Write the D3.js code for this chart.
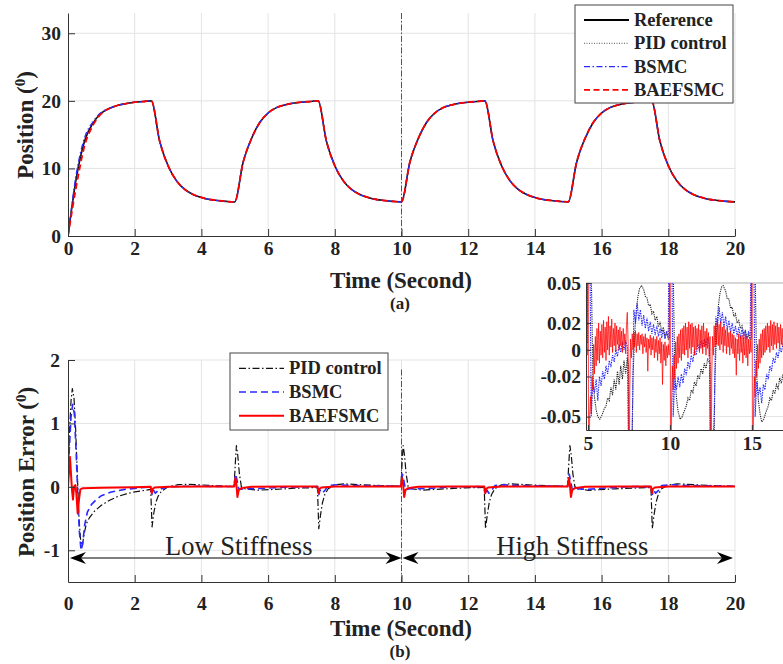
<!DOCTYPE html>
<html>
<head>
<meta charset="utf-8">
<title>Position tracking and error</title>
<script src="https://cdn.jsdelivr.net/npm/d3@7"></script>
<style>
body { margin: 0; background: #fff; }
svg text { font-family: "Liberation Serif", "Times New Roman", serif; fill: #222; }
.tick text { font-weight: bold; font-size: 19.5px; }
.axis path, .axis line { stroke: #333; stroke-width: 1; }
.grid line { stroke: #e3e3e3; stroke-width: 1; }
.xlabel, .ylabel { font-weight: bold; font-size: 23px; }
.sub { font-weight: bold; font-size: 17px; }
.leg text { font-weight: bold; font-size: 18.5px; }
.stiff { font-size: 26.5px; }
</style>
</head>
<body>
<svg id="chart" width="783" height="664"></svg>
<script>
// ---- data ----
var posStep = 0.25; // s, sampling of the position curves
var refPos = [
  0, 8.6, 14.1, 16.7, 18.2, 18.9, 19.35, 19.6, 19.8, 19.9, 20.0,
  14.0, 10.4, 8.2, 6.9, 6.15, 5.7, 5.4, 5.25, 5.12, 5.05,
  10.9, 14.4, 16.8, 18.2, 19.0, 19.4, 19.65, 19.8, 19.9, 20.0,
  14.0, 10.4, 8.2, 6.9, 6.15, 5.7, 5.4, 5.25, 5.12, 5.05,
  10.9, 14.4, 16.8, 18.2, 19.0, 19.4, 19.65, 19.8, 19.9, 20.0,
  14.0, 10.4, 8.2, 6.9, 6.15, 5.7, 5.4, 5.25, 5.12, 5.05,
  10.9, 14.4, 16.8, 18.2, 19.0, 19.4, 19.65, 19.8, 19.9, 20.0,
  14.0, 10.4, 8.2, 6.9, 6.15, 5.7, 5.4, 5.25, 5.12, 5.05
];
// first second of the controllers' response (after that they sit on the reference)
var pidPosStart  = [0, 8.8, 14.3, 16.8, 18.2];
var bsmcPosStart = [0, 9.2, 14.6, 16.9, 18.3];
var baefPosStart = [0, 7.4, 13.4, 16.4, 18.1];

var pidErr = [
  [0,0],[0.04,0.8],[0.09,1.35],[0.13,1.55],[0.18,1.4],[0.23,0.9],[0.28,0.2],[0.33,-0.5],[0.38,-0.85],[0.43,-0.93],
  [0.48,-0.75],[0.55,-0.58],[0.65,-0.48],[0.8,-0.38],[1.0,-0.29],[1.25,-0.21],[1.5,-0.15],[1.75,-0.11],[2.0,-0.08],[2.25,-0.06],[2.48,-0.04],
  [2.52,-0.63],[2.57,-0.42],[2.63,-0.25],[2.7,-0.15],[2.8,-0.07],[3.0,0.0],[3.3,0.035],[3.6,0.04],[4.0,0.03],[4.5,0.015],[4.98,0.006],
  [5.02,0.4],[5.05,0.65],[5.09,0.5],[5.14,0.2],[5.2,0.0],[5.3,-0.03],[5.7,-0.052],[6.2,-0.04],[6.8,-0.022],[7.48,-0.01],
  [7.52,-0.66],[7.57,-0.45],[7.63,-0.25],[7.7,-0.12],[7.8,-0.03],[8.0,0.03],[8.27,0.048],[8.8,0.033],[9.4,0.019],[9.98,0.009],
  [10.02,0.4],[10.05,0.65],[10.09,0.5],[10.14,0.2],[10.2,0.0],[10.3,-0.03],[10.62,-0.052],[11.3,-0.032],[11.9,-0.016],[12.48,-0.008],
  [12.52,-0.66],[12.57,-0.45],[12.63,-0.25],[12.7,-0.12],[12.8,-0.03],[13.0,0.035],[13.25,0.048],[13.8,0.032],[14.4,0.018],[14.98,0.009],
  [15.02,0.4],[15.05,0.65],[15.09,0.5],[15.14,0.2],[15.2,0.0],[15.3,-0.03],[15.6,-0.054],[16.4,-0.031],[17.0,-0.019],[17.48,-0.01],
  [17.52,-0.66],[17.57,-0.45],[17.63,-0.25],[17.7,-0.12],[17.8,-0.03],[18.0,0.03],[18.27,0.048],[18.8,0.033],[19.4,0.019],[20.0,0.008]
];
var bsmcErr = [
  [0,0],[0.04,0.6],[0.09,1.1],[0.14,1.3],[0.19,1.15],[0.24,0.6],[0.29,-0.1],[0.34,-0.7],[0.39,-1.0],[0.44,-0.9],
  [0.5,-0.6],[0.58,-0.4],[0.7,-0.28],[0.85,-0.2],[1.0,-0.14],[1.3,-0.08],[1.7,-0.04],[2.2,-0.015],[2.48,0.0],
  [2.52,-0.12],[2.56,-0.05],[2.62,-0.1],[2.7,-0.06],[2.8,-0.03],[3.0,0.0],[3.5,0.01],[4.5,0.008],[4.98,0.005],
  [5.03,0.2],[5.07,0.1],[5.12,-0.04],[5.3,-0.03],[5.8,-0.025],[6.5,-0.006],[7.48,0.003],
  [7.52,-0.12],[7.56,-0.05],[7.62,-0.1],[7.7,-0.06],[7.8,0.02],[8.05,0.034],[8.6,0.021],[9.4,0.015],[9.98,0.01],
  [10.03,0.2],[10.07,0.1],[10.12,-0.04],[10.3,-0.03],[10.8,-0.025],[11.5,0.0],[12.48,0.004],
  [12.52,-0.12],[12.56,-0.05],[12.62,-0.1],[12.7,-0.06],[12.8,0.02],[13.0,0.032],[13.5,0.02],[14.5,0.012],[14.98,0.01],
  [15.03,0.2],[15.07,0.1],[15.12,-0.04],[15.3,-0.03],[15.6,-0.04],[16.0,-0.022],[16.9,0.004],[17.48,0.003],
  [17.52,-0.12],[17.56,-0.05],[17.62,-0.1],[17.7,-0.06],[17.8,0.02],[18.05,0.034],[18.6,0.021],[19.4,0.015],[20.0,0.01]
];
var baefErr = [
  [0,0],[0.03,0.25],[0.06,0.47],[0.09,0.2],[0.12,-0.05],[0.15,-0.2],[0.18,0.0],[0.22,0.03],[0.25,-0.1],[0.29,-0.42],
  [0.33,-0.2],[0.37,-0.04],[0.45,-0.02],[1.0,-0.015],[2.0,-0.008],[2.48,0.0],
  [2.51,-0.1],[2.54,-0.03],[2.6,-0.01],[3.0,0.003],[4.0,0.004],[4.98,0.005],
  [5.02,0.14],[5.05,0.03],[5.08,-0.16],[5.12,-0.05],[5.2,-0.02],[5.5,0.0],[6.5,0.005],[7.48,0.005],
  [7.51,-0.1],[7.54,-0.03],[7.6,-0.01],[8.0,0.004],[9.0,0.004],[9.98,0.004],
  [10.02,0.14],[10.05,0.03],[10.08,-0.16],[10.12,-0.05],[10.2,-0.02],[10.5,0.0],[11.5,0.005],[12.48,0.005],
  [12.51,-0.1],[12.54,-0.03],[12.6,-0.01],[13.0,0.006],[14.0,0.004],[14.98,0.004],
  [15.02,0.14],[15.05,0.03],[15.08,-0.16],[15.12,-0.05],[15.2,-0.02],[15.5,0.0],[16.5,0.006],[17.48,0.005],
  [17.51,-0.1],[17.54,-0.03],[17.6,-0.01],[18.0,0.004],[19.0,0.004],[20.0,0.004]
];

// zoomed view (inset), BAEFSMC: 0.05 s samples from 4.9 s
var baefT0 = 4.9, baefStep = 0.05;
var baefZoom = [
  0.012, -0.004, 0.14, -0.16, -0.05, -0.035, -0.048, -0.02, -0.03, 0.004, -0.018, 0.01, -0.012, 0.016, -0.008, 0.02, -0.01, 0.014, -0.004, 0.019,
  -0.006, 0.022, -0.002, 0.017, -0.008, 0.021, 0.0, 0.025, -0.004, 0.018, 0.002, 0.023, -0.002, 0.016, 0.003, 0.02, -0.001, 0.018, 0.004, 0.015,
  0.0, 0.017, 0.003, 0.014, -0.002, 0.016, 0.004, 0.012, -0.003, 0.018, 0.028, 0.005, -0.15, -0.03, 0.008, -0.006, 0.012, 0.0, 0.013, 0.002,
  0.014, -0.002, 0.012, 0.003, 0.013, 0.0, 0.011, 0.004, 0.012, -0.003, 0.01, 0.002, 0.012, -0.002, 0.009, -0.016, 0.008, 0.001, 0.011, -0.004,
  0.009, 0.0, 0.01, -0.006, 0.008, -0.002, 0.01, -0.008, 0.007, -0.003, 0.009, -0.01, 0.006, -0.026, 0.004, -0.008, 0.006, -0.012, 0.003, -0.006,
  0.004, -0.004, 0.15, -0.15, -0.04, -0.012, -0.03, -0.004, -0.022, 0.006, -0.014, 0.01, -0.01, 0.012, -0.006, 0.015, -0.008, 0.016, -0.003, 0.018,
  -0.004, 0.02, 0.0, 0.017, -0.006, 0.021, 0.001, 0.019, -0.003, 0.02, 0.002, 0.017, -0.004, 0.018, 0.0, 0.016, 0.003, 0.019, -0.002, 0.015,
  0.001, 0.018, -0.003, 0.02, 0.002, 0.014, -0.004, 0.016, 0.001, 0.013, -0.005, 0.01, -0.15, -0.02, 0.01, -0.004, 0.018, 0.002, 0.02, 0.004,
  0.022, 0.003, 0.019, 0.0, 0.021, 0.004, 0.017, -0.002, 0.018, 0.003, 0.015, -0.003, 0.016, 0.002, 0.013, -0.004, 0.014, 0.001, 0.012, -0.003,
  0.011, -0.006, 0.009, -0.019, 0.008, -0.003, 0.012, -0.008, 0.01, -0.002, 0.011, -0.01, 0.009, -0.004, 0.012, -0.006, 0.01, -0.012, 0.008, -0.003,
  0.007, -0.002, 0.14, -0.15, -0.045, -0.02, -0.035, -0.008, -0.02, 0.004, -0.014, 0.008, -0.01, 0.012, -0.006, 0.015, -0.004, 0.016, -0.002, 0.018,
  0.0, 0.02, 0.002, 0.018, -0.002, 0.022, 0.003, 0.019, 0.0, 0.021, 0.004, 0.018, 0.001, 0.02, 0.005, 0.017, 0.002, 0.019, 0.004, 0.016,
  0.003, 0.018, 0.006
];
// zoomed view, BSMC: 0.1 s samples from 4.9 s
var bsmcT0 = 4.9, bsmcStep = 0.1;
var bsmcZoom = [
  0.005, 0.2, 0.1, -0.05, -0.025, -0.032, -0.022, -0.038, -0.02, -0.027,
  -0.016, -0.022, -0.012, -0.018, -0.008, -0.013, -0.004, -0.009, 0.0, -0.005,
  0.004, -0.002, 0.006, 0.0, 0.007, 0.002, -0.1, -0.08, -0.06, 0.03,
  0.02, 0.035, 0.022, 0.03, 0.018, 0.026, 0.016, 0.024, 0.014, 0.021,
  0.012, 0.019, 0.011, 0.018, 0.01, 0.016, 0.009, 0.015, 0.008, 0.014,
  0.009, 0.2, 0.1, -0.05, -0.022, -0.03, -0.02, -0.028, -0.018, -0.025,
  -0.014, -0.019, -0.009, -0.014, -0.004, -0.009, 0.0, -0.004, 0.004, 0.0,
  0.007, 0.002, 0.008, 0.003, 0.009, 0.004, -0.1, -0.08, -0.05, 0.025,
  0.018, 0.032, 0.02, 0.028, 0.017, 0.025, 0.015, 0.022, 0.013, 0.02,
  0.012, 0.018, 0.01, 0.017, 0.009, 0.016, 0.008, 0.015, 0.008, 0.014,
  0.008, 0.2, 0.1, -0.05, -0.024, -0.034, -0.028, -0.04, -0.026, -0.03,
  -0.018, -0.022, -0.012, -0.016, -0.006, -0.01, -0.002, -0.006, 0.002, -0.002,
  0.005, 0.002
];
var pidZoom = [
  [4.9,0.006],[4.98,0.005],[5.02,0.4],[5.1,0.5],[5.2,0.06],[5.3,-0.02],[5.4,-0.036],[5.5,-0.045],[5.6,-0.05],[5.73,-0.052],
  [5.85,-0.049],[6.0,-0.044],[6.1,-0.042],[6.2,-0.036],[6.3,-0.038],[6.4,-0.028],[6.5,-0.034],[6.6,-0.022],[6.7,-0.03],[6.8,-0.016],
  [6.9,-0.026],[7.0,-0.012],[7.1,-0.022],[7.2,-0.008],[7.3,-0.018],[7.4,-0.006],[7.48,-0.012],[7.52,-0.5],[7.6,-0.3],[7.68,-0.08],
  [7.75,-0.02],[7.85,0.012],[7.95,0.03],[8.05,0.04],[8.15,0.046],[8.27,0.048],[8.4,0.045],[8.5,0.04],[8.6,0.039],[8.7,0.033],
  [8.8,0.034],[8.9,0.027],[9.0,0.029],[9.1,0.022],[9.2,0.025],[9.3,0.017],[9.4,0.021],[9.5,0.013],[9.6,0.017],[9.7,0.01],
  [9.8,0.013],[9.9,0.008],[9.98,0.009],
  [10.02,0.4],[10.1,0.5],[10.2,0.06],[10.3,-0.02],[10.4,-0.036],[10.5,-0.046],[10.62,-0.052],[10.75,-0.05],[10.9,-0.045],[11.0,-0.042],
  [11.1,-0.036],[11.2,-0.038],[11.3,-0.03],[11.4,-0.032],[11.5,-0.024],[11.6,-0.027],[11.7,-0.019],[11.8,-0.022],[11.9,-0.014],[12.0,-0.018],
  [12.1,-0.01],[12.2,-0.014],[12.3,-0.007],[12.45,-0.01],
  [12.52,-0.5],[12.6,-0.3],[12.68,-0.08],[12.75,-0.02],[12.85,0.014],[12.95,0.032],[13.05,0.042],[13.15,0.047],[13.25,0.048],[13.4,0.044],
  [13.5,0.038],[13.6,0.038],[13.7,0.031],[13.8,0.032],[13.9,0.025],[14.0,0.027],[14.1,0.02],[14.2,0.022],[14.3,0.016],[14.4,0.018],
  [14.5,0.012],[14.6,0.014],[14.7,0.009],[14.8,0.011],[14.9,0.007],[14.98,0.009],
  [15.02,0.4],[15.1,0.5],[15.2,0.06],[15.3,-0.02],[15.4,-0.038],[15.5,-0.048],[15.6,-0.054],[15.72,-0.052],[15.85,-0.047],[16.0,-0.042],
  [16.1,-0.036],[16.2,-0.038],[16.3,-0.03],[16.4,-0.033],[16.5,-0.026],[16.6,-0.029],[16.7,-0.021],[16.8,-0.025],[16.9,-0.018],[17.0,-0.021]
];

var timeTicks = [0, 2, 4, 6, 8, 10, 12, 14, 16, 18, 20];
var posTicks = [0, 10, 20, 30];
var errTicks = [-1, 0, 1, 2];
var zoomXTicks = [5, 10, 15];
var zoomYTicks = [-0.05, -0.02, 0, 0.02, 0.05];
var topNames = ["Reference", "PID control", "BSMC", "BAEFSMC"];
var botNames = ["PID control", "BSMC", "BAEFSMC"];
var stiffLabels = ["Low Stiffness", "High Stiffness"];
var stiffSpans = [[0, 10], [10, 20]];
var switchTime = 10;

// ---- scales ----
var xTop = d3.scaleLinear().domain([0, 20]).range([68, 735]);
var yTop = d3.scaleLinear().domain([0, 33]).range([236, 13]);
var xBot = d3.scaleLinear().domain([0, 20]).range([68, 735]);
var yBot = d3.scaleLinear().domain([-1.5, 2]).range([582, 360]);
var xIn = d3.scaleLinear().domain([4.88, 16.9]).range([586, 783]);
var yIn = d3.scaleLinear().domain([-0.06, 0.05]).range([430, 283]);

var svg = d3.select("#chart");
var defs = svg.append("defs");
function clip(id, x, y) {
  defs.append("clipPath").attr("id", id).append("rect")
    .attr("x", x.range()[0]).attr("y", y.range()[1])
    .attr("width", x.range()[1] - x.range()[0]).attr("height", y.range()[0] - y.range()[1]);
}
clip("cTop", xTop, yTop); clip("cBot", xBot, yBot); clip("cIn", xIn, yIn);

var fmt = function(d) { return String(d); };

function grid(g, x, y, xt, yt) {
  var gg = g.append("g").attr("class", "grid");
  gg.selectAll(".gx").data(xt).enter().append("line")
    .attr("x1", x).attr("x2", x).attr("y1", y.range()[0]).attr("y2", y.range()[1]);
  gg.selectAll(".gy").data(yt).enter().append("line")
    .attr("x1", x.range()[0]).attr("x2", x.range()[1]).attr("y1", y).attr("y2", y);
}

// ---- (a) position ----
var gTop = svg.append("g");
grid(gTop, xTop, yTop, timeTicks.slice(1), posTicks.slice(1));
gTop.append("line")
  .attr("x1", xTop(switchTime)).attr("x2", xTop(switchTime))
  .attr("y1", yTop(33)).attr("y2", yTop(0))
  .attr("stroke", "#555").attr("stroke-width", 1).attr("stroke-dasharray", "6,2,1.5,2");

var posLine = d3.line().x(function(d, i) { return xTop(i * posStep); }).y(function(d) { return yTop(d); })
  .curve(d3.curveMonotoneX);
var topSeries = [
  refPos,
  pidPosStart.concat(refPos.slice(pidPosStart.length)),
  bsmcPosStart.concat(refPos.slice(bsmcPosStart.length)),
  baefPosStart.concat(refPos.slice(baefPosStart.length))
];
var topStyle = [
  { c: "#000", w: 1.6, dash: null },
  { c: "#555", w: 1, dash: "1,1.5" },
  { c: "#2a2aff", w: 1.3, dash: "6,2.5,1.5,2.5" },
  { c: "#ff0000", w: 1.8, dash: "6,3.5" }
];
var gTopLines = gTop.append("g").attr("clip-path", "url(#cTop)");
topSeries.forEach(function(s, i) {
  gTopLines.append("path").attr("d", posLine(s)).attr("fill", "none")
    .attr("stroke", topStyle[i].c).attr("stroke-width", topStyle[i].w)
    .attr("stroke-dasharray", topStyle[i].dash);
});

gTop.append("g").attr("class", "axis").attr("transform", "translate(0," + yTop(0) + ")")
  .call(d3.axisBottom(xTop).tickValues(timeTicks).tickFormat(fmt).tickSizeInner(-7).tickSizeOuter(0).tickPadding(5));
gTop.append("g").attr("class", "axis").attr("transform", "translate(" + xTop(0) + ",0)")
  .call(d3.axisLeft(yTop).tickValues(posTicks).tickFormat(fmt).tickSizeInner(-7).tickSizeOuter(0).tickPadding(7));

// legend (a)
var legA = svg.append("g").attr("class", "leg");
legA.append("rect").attr("x", 575).attr("y", 5).attr("width", 158).attr("height", 98)
  .attr("fill", "#fff").attr("stroke", "#444").attr("stroke-width", 1);
topNames.forEach(function(n, i) {
  var yy = 20 + i * 23.3;
  legA.append("line").attr("x1", 584).attr("x2", 629).attr("y1", yy).attr("y2", yy)
    .attr("stroke", topStyle[i].c).attr("stroke-width", i === 0 ? 2 : topStyle[i].w)
    .attr("stroke-dasharray", topStyle[i].dash);
  legA.append("text").attr("x", 634).attr("y", yy + 6).text(n);
});

// labels (a)
svg.append("text").attr("class", "xlabel").attr("x", 401).attr("y", 288).attr("text-anchor", "middle").text("Time (Second)");
svg.append("text").attr("class", "sub").attr("x", 400).attr("y", 309).attr("text-anchor", "middle").text("(a)");
var yl1 = svg.append("text").attr("class", "ylabel").attr("text-anchor", "middle")
  .attr("transform", "translate(33,125) rotate(-90)");
yl1.append("tspan").text("Position (");
yl1.append("tspan").attr("baseline-shift", "super").attr("font-size", "15px").text("0");
yl1.append("tspan").text(")");

// ---- (b) position error ----
var gBot = svg.append("g");
grid(gBot, xBot, yBot, timeTicks.slice(1), errTicks);
gBot.append("line")
  .attr("x1", xBot(switchTime)).attr("x2", xBot(switchTime))
  .attr("y1", yBot(1.85)).attr("y2", yBot(-1.5))
  .attr("stroke", "#555").attr("stroke-width", 1).attr("stroke-dasharray", "6,2,1.5,2");

var errLine = d3.line().x(function(d) { return xBot(d[0]); }).y(function(d) { return yBot(d[1]); });
var botSeries = [pidErr, bsmcErr, baefErr];
var botStyle = [
  { c: "#111", w: 1.2, dash: "7,2.5,1.5,2.5" },
  { c: "#2a2aff", w: 1.6, dash: "7,4" },
  { c: "#ff0000", w: 2, dash: null }
];
var gBotLines = gBot.append("g").attr("clip-path", "url(#cBot)");
botSeries.forEach(function(s, i) {
  gBotLines.append("path").attr("d", errLine(s)).attr("fill", "none")
    .attr("stroke", botStyle[i].c).attr("stroke-width", botStyle[i].w)
    .attr("stroke-dasharray", botStyle[i].dash).attr("stroke-linejoin", "round");
});

gBot.append("g").attr("class", "axis").attr("transform", "translate(0," + yBot(-1.5) + ")")
  .call(d3.axisBottom(xBot).tickValues(timeTicks).tickFormat(fmt).tickSizeInner(-7).tickSizeOuter(0).tickPadding(14));
gBot.append("g").attr("class", "axis").attr("transform", "translate(" + xBot(0) + ",0)")
  .call(d3.axisLeft(yBot).tickValues(errTicks).tickFormat(fmt).tickSizeInner(-7).tickSizeOuter(0).tickPadding(8));

// stiffness annotations
function head(g, x, y, dir) {
  g.append("path").attr("fill", "#000")
    .attr("d", "M" + x + "," + y + " L" + (x - dir * 16) + "," + (y - 6) + " L" + (x - dir * 11) + "," + y +
      " L" + (x - dir * 16) + "," + (y + 6) + "Z");
}
var ann = gBot.append("g");
stiffSpans.forEach(function(sp, i) {
  var xa = xBot(sp[0]) + (i === 0 ? 2 : 1), xb = xBot(sp[1]) - (i === 0 ? 0 : 2), ya = 558;
  ann.append("line").attr("x1", xa + 8).attr("x2", xb - 8).attr("y1", ya).attr("y2", ya)
    .attr("stroke", "#000").attr("stroke-width", 1.2);
  head(ann, xa, ya, -1);
  head(ann, xb, ya, 1);
  ann.append("text").attr("class", "stiff").attr("text-anchor", "middle")
    .attr("x", xBot((sp[0] + sp[1]) / 2) + 4).attr("y", 555).text(stiffLabels[i]);
});

// legend (b)
var legB = svg.append("g").attr("class", "leg");
legB.append("rect").attr("x", 230).attr("y", 353).attr("width", 158).attr("height", 77)
  .attr("fill", "#fff").attr("stroke", "#444").attr("stroke-width", 1);
botNames.forEach(function(n, i) {
  var yy = 368.3 + i * 23.7;
  legB.append("line").attr("x1", 239).attr("x2", 284).attr("y1", yy).attr("y2", yy)
    .attr("stroke", botStyle[i].c).attr("stroke-width", botStyle[i].w)
    .attr("stroke-dasharray", botStyle[i].dash);
  legB.append("text").attr("x", 289).attr("y", yy + 6).text(n);
});

svg.append("text").attr("class", "xlabel").attr("x", 401).attr("y", 636).attr("text-anchor", "middle").text("Time (Second)");
svg.append("text").attr("class", "sub").attr("x", 400).attr("y", 657).attr("text-anchor", "middle").text("(b)");
var yl2 = svg.append("text").attr("class", "ylabel").attr("text-anchor", "middle")
  .attr("transform", "translate(34,472) rotate(-90)");
yl2.append("tspan").text("Position Error (");
yl2.append("tspan").attr("baseline-shift", "super").attr("font-size", "15px").text("0");
yl2.append("tspan").text(")");

// ---- inset: zoom on 5-17 s ----
var gIn = svg.append("g");
gIn.append("rect").attr("x", 538).attr("y", 272).attr("width", 48).attr("height", 95).attr("fill", "#fff");
gIn.append("rect").attr("x", xIn.range()[0]).attr("y", yIn.range()[1])
  .attr("width", xIn.range()[1] - xIn.range()[0]).attr("height", yIn.range()[0] - yIn.range()[1])
  .attr("fill", "#fff");
var ig = gIn.append("g").attr("class", "grid");
ig.selectAll("line").data(zoomYTicks).enter().append("line")
  .attr("x1", xIn.range()[0]).attr("x2", xIn.range()[1]).attr("y1", yIn).attr("y2", yIn);
gIn.append("line").attr("x1", xIn.range()[0]).attr("x2", xIn.range()[1])
  .attr("y1", yIn.range()[1]).attr("y2", yIn.range()[1]).attr("stroke", "#bbb");

var gInLines = gIn.append("g").attr("clip-path", "url(#cIn)");
var pidZoomLine = d3.line().x(function(d) { return xIn(d[0]); }).y(function(d) { return yIn(d[1]); });
var bsmcZoomLine = d3.line().x(function(d, i) { return xIn(bsmcT0 + i * bsmcStep); }).y(function(d) { return yIn(d); });
var baefZoomLine = d3.line().x(function(d, i) { return xIn(baefT0 + i * baefStep); }).y(function(d) { return yIn(d); });
gInLines.append("path").attr("d", pidZoomLine(pidZoom)).attr("fill", "none")
  .attr("stroke", "#222").attr("stroke-width", 1.1).attr("stroke-dasharray", "1.2,1");
gInLines.append("path").attr("d", bsmcZoomLine(bsmcZoom)).attr("fill", "none")
  .attr("stroke", "#2a2aff").attr("stroke-width", 1.1).attr("stroke-dasharray", "1.5,1");
gInLines.append("path").attr("d", baefZoomLine(baefZoom)).attr("fill", "none")
  .attr("stroke", "#ff0000").attr("stroke-width", 1).attr("stroke-opacity", 0.75);

gIn.append("g").attr("class", "axis").attr("transform", "translate(0," + yIn.range()[0] + ")")
  .call(d3.axisBottom(xIn).tickValues(zoomXTicks).tickFormat(fmt).tickSizeInner(-5).tickSizeOuter(0).tickPadding(6));
gIn.append("g").attr("class", "axis").attr("transform", "translate(" + xIn.range()[0] + ",0)")
  .call(d3.axisLeft(yIn).tickValues(zoomYTicks).tickFormat(fmt).tickSizeInner(-5).tickSizeOuter(0).tickPadding(5));
</script>
</body>
</html>
